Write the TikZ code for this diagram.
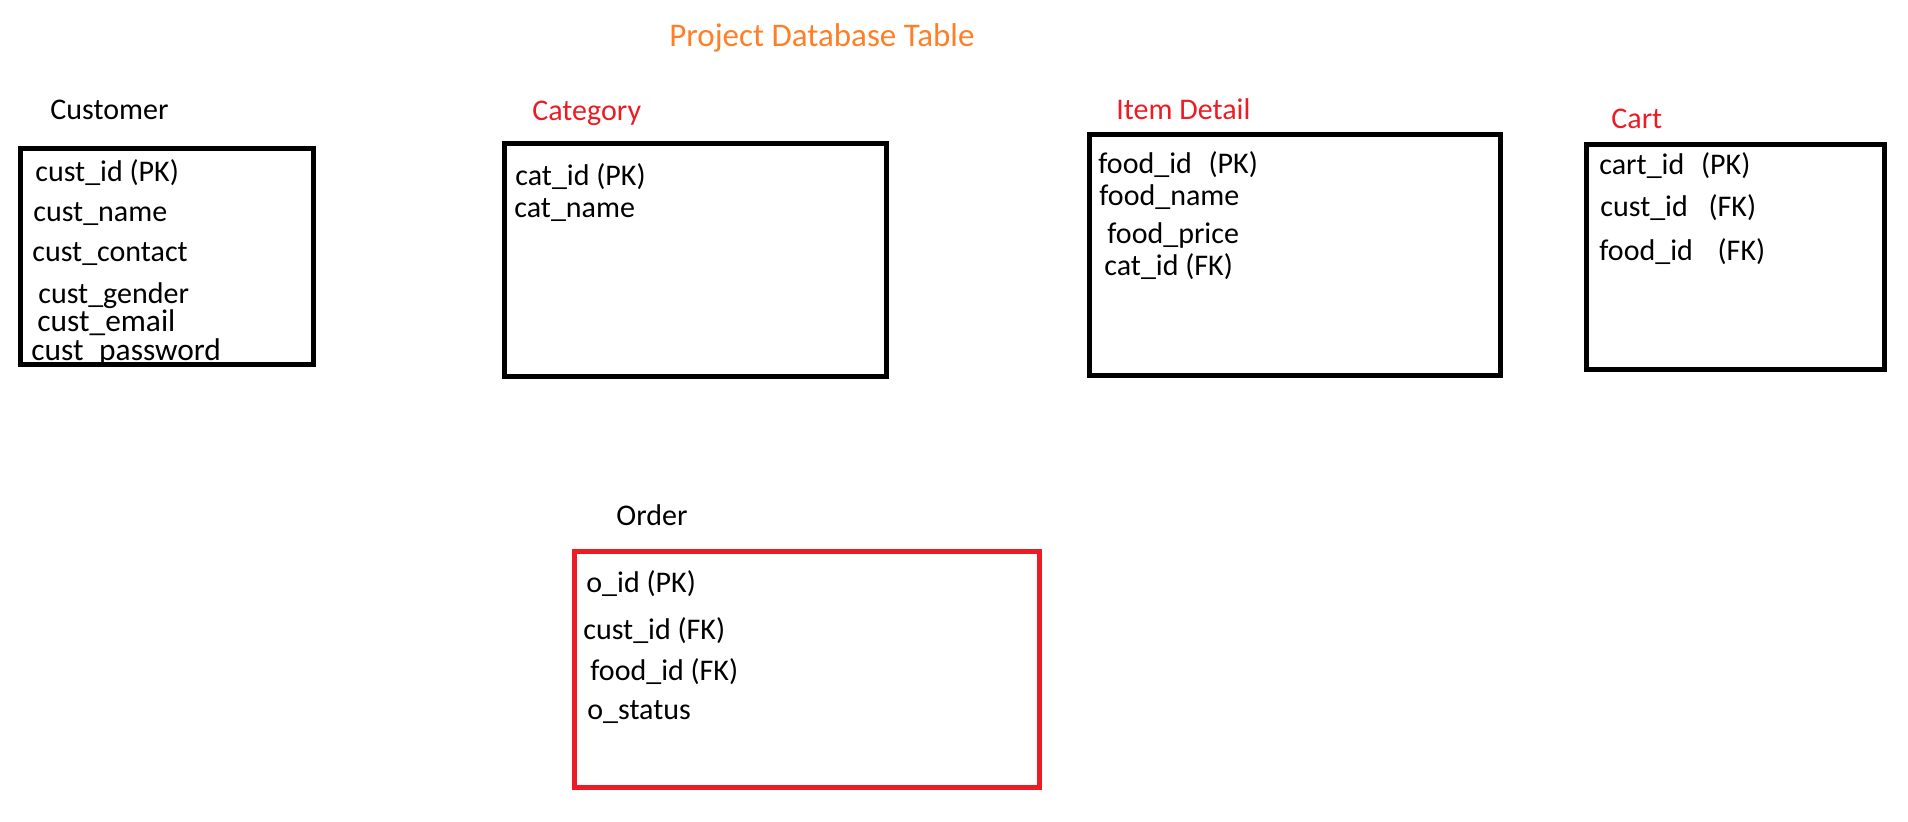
\documentclass[tikz,border=0pt]{standalone}
\usepackage{fontspec}
\setmainfont{Carlito}
\definecolor{paintred}{HTML}{ED1C24}
\definecolor{paintorange}{HTML}{FF7F27}
\begin{document}
\begin{tikzpicture}[x=0.5pt,y=-0.5pt,
  field/.style={anchor=base west, inner sep=0pt, font=\fontsize{15}{18}\selectfont},
  bigfield/.style={anchor=base west, inner sep=0pt, font=\fontsize{15.7}{19}\selectfont},
  heading/.style={field},
  titletext/.style={anchor=base west, inner sep=0pt, font=\fontsize{16.5}{20}\selectfont, text=paintorange},
  tablebox/.style={draw, rectangle, inner sep=0pt, line width=2.3pt},
]
\useasboundingbox[fill=white] (0,0) rectangle (1908,822);

% title
\node[titletext] (title) at (669,46.5) {Project Database Table};

% Customer table
\node[heading] (custhead) at (50,119.5) {Customer};
\node[tablebox, line width=2.5pt, minimum width=146.5pt, minimum height=108pt] (custbox) at (167,256.5) {};
\node[field] (c1) at (35,181.5) {cust\_id (PK)};
\node[field] (c2) at (33,221.5) {cust\_name};
\node[field] (c3) at (32,261.5) {cust\_contact};
\node[field, text depth=3pt] (c4) at (38,304) {cust\_gender};
\node[bigfield, text height=10.2pt, text depth=2.2pt] (c5) at (37,332) {cust\_email};
\node[bigfield, text height=10.2pt] (c6) at (31,360.5) {cust\hphantom{\_}password};

% Category table
\node[heading, text=paintred] (cathead) at (532,120.5) {Category};
\node[tablebox, minimum width=191.25pt, minimum height=116.75pt] (catbox) at (695.5,260) {};
\node[field] (k1) at (515,185.5) {cat\_id (PK)};
\node[field] (k2) at (514,217.5) {cat\_name};

% Item Detail table
\node[heading, text=paintred] (itemhead) at (1116,119.5) {Item Detail};
\node[tablebox, minimum width=205.75pt, minimum height=120.75pt] (itembox) at (1295,255) {};
\node[field] (i1) at (1098,173.5) {food\_id \hspace{5pt}(PK)};
\node[field] (i2) at (1099,205.5) {food\_name};
\node[field] (i3) at (1107,243.5) {food\_price};
\node[field] (i4) at (1104,275.5) {cat\_id (FK)};

% Cart table
\node[heading, text=paintred] (carthead) at (1611,128.5) {Cart};
\node[tablebox, minimum width=149.25pt, minimum height=112.75pt] (cartbox) at (1735.5,257) {};
\node[field] (t1) at (1599,174.5) {cart\_id \hspace{5pt}(PK)};
\node[field] (t2) at (1600,216.5) {cust\_id \hspace{7pt}(FK)};
\node[field] (t3) at (1599,260.5) {food\_id \hspace{9pt}(FK)};

% Order table
\node[heading] (orderhead) at (616,525.5) {Order};
\node[tablebox, draw=paintred, minimum width=232.75pt, minimum height=118.25pt] (orderbox) at (807,669.5) {};
\node[field] (o1) at (586,592.5) {o\_id (PK)};
\node[field] (o2) at (583,639.5) {cust\_id (FK)};
\node[field] (o3) at (590,680.5) {food\_id (FK)};
\node[field] (o4) at (587,719.5) {o\_status};
\end{tikzpicture}
\end{document}
